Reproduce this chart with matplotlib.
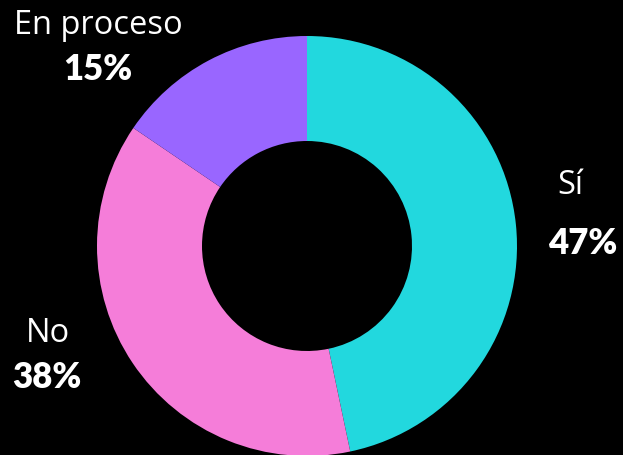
import matplotlib
matplotlib.use("Agg")
import matplotlib.pyplot as plt

# datos del gráfico (tamaño de los sectores)
categorias = ["Sí", "No", "En proceso"]
valores = [46.7, 37.8, 15.5]
etiquetas_pct = ["47%", "38%", "15%"]
colores = ["#22D8DE", "#F57DD9", "#9966FF"]

W, H = 623, 455
fig = plt.figure(figsize=(W / 100, H / 100), dpi=100, facecolor="black")
ax = fig.add_axes([0, 0, 1, 1])
ax.set_facecolor("black")

ax.pie(valores, colors=colores, startangle=90, counterclock=False,
       center=(307, H - 246), radius=210,
       wedgeprops=dict(width=105, edgecolor="none"))

# pie() fija sus propios límites, se reponen después
ax.set_xlim(0, W)
ax.set_ylim(0, H)
ax.set_aspect("equal")
ax.axis("off")

# posiciones de las etiquetas (px desde arriba)
pos_nombre = [(570, 186), (48, 333), (98, 26)]
pos_pct = [(583, 244), (47, 378), (98, 70)]

for nombre, pct, (xn, yn), (xp, yp) in zip(categorias, etiquetas_pct, pos_nombre, pos_pct):
    ax.text(xn, H - yn, nombre, color="white", fontsize=23.5, family="Open Sans",
            ha="center", va="center")
    ax.text(xp, H - yp, pct, color="white", fontsize=25, family="Lato",
            fontweight="heavy", ha="center", va="center")

fig.savefig("out.png", dpi=100, facecolor="black")
